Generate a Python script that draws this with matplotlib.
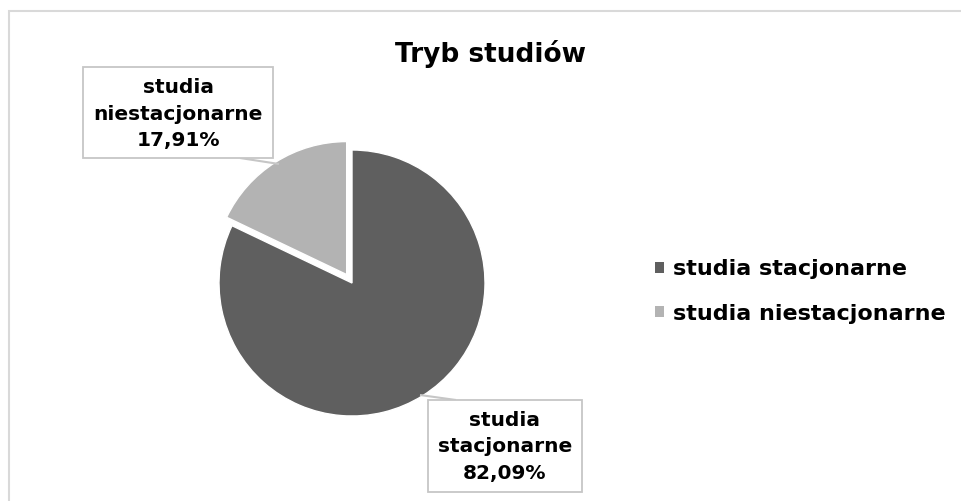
import matplotlib
matplotlib.use("Agg")
import matplotlib.pyplot as plt
from matplotlib.patches import Rectangle

plt.rcParams['font.family'] = ['DejaVu Sans']

categories = ["studia stacjonarne", "studia niestacjonarne"]
values = [82.09, 17.91]
label_texts = ["studia\nstacjonarne\n82,09%", "studia\nniestacjonarne\n17,91%"]
colors = ["#5f5f5f", "#b3b3b3"]
title = "Tryb studiów"

W, H = 962, 501
fig = plt.figure(figsize=(W / 100, H / 100), dpi=100)
fig.patch.set_facecolor("white")

# chart border
fig.add_artist(Rectangle((9 / W, -0.01), (W + 5) / W, (H - 10.5) / H + 0.01,
                         transform=fig.transFigure, fill=False,
                         edgecolor="#d9d9d9", linewidth=1.5))

cx, cy, R = 352, 283, 133
half = 200
ax = fig.add_axes([(cx - half) / W, (H - cy - half) / H, 2 * half / W, 2 * half / H])
ax.axis("off")

wedges, _ = ax.pie(values, colors=colors, startangle=90, counterclock=False,
                   explode=[0, 0.075], radius=1,
                   wedgeprops=dict(edgecolor="white", linewidth=1.0))
lim = half / R
ax.set_xlim(-lim, lim)
ax.set_ylim(-lim, lim)
ax.set_aspect("equal")


def px2data(x, y):
    return ((x - cx) / R, (cy - y) / R)


# data label boxes (pixel coords: left, top, right, bottom)
boxes = [(428, 400, 582, 492), (83, 67, 273, 158)]
text_centers = [(505, 447), (178, 114)]
leaders = [((420, 395), (456, 400)), ((240, 158), (279, 164))]
for txt, (l, t, r, b), (tx, ty), (p0, p1) in zip(label_texts, boxes, text_centers, leaders):
    x0, y0 = px2data(l, b)
    x1, y1 = px2data(r, t)
    ax.add_patch(Rectangle((x0, y0), x1 - x0, y1 - y0, facecolor="white",
                           edgecolor="#c6c6c6", linewidth=1.3, zorder=5, clip_on=False))
    ax.text(*px2data(tx, ty), txt, ha="center", va="center", fontsize=14.5,
            fontweight="bold", color="black", linespacing=1.5, zorder=6, clip_on=False)
    a = px2data(*p0)
    c = px2data(*p1)
    ax.plot([a[0], c[0]], [a[1], c[1]], color="#c6c6c6", linewidth=1.5,
            clip_on=False, zorder=4, solid_capstyle="butt")

fig.text(490.5 / W, 1 - 62 / H, title, ha="center", va="baseline",
         fontsize=19, fontweight="bold", color="black")

handles = [Rectangle((0, 0), 1, 1, facecolor=c, edgecolor="none") for c in colors]
fig.legend(handles, categories, loc="center left",
           bbox_to_anchor=(655 / W, 1 - 291.5 / H), frameon=False,
           prop=dict(size=16, weight="bold"), handlelength=0.4, handleheight=0.4,
           handletextpad=0.4, labelspacing=1.1, borderpad=0, borderaxespad=0)

fig.savefig("out.png", dpi=100, facecolor="white")
